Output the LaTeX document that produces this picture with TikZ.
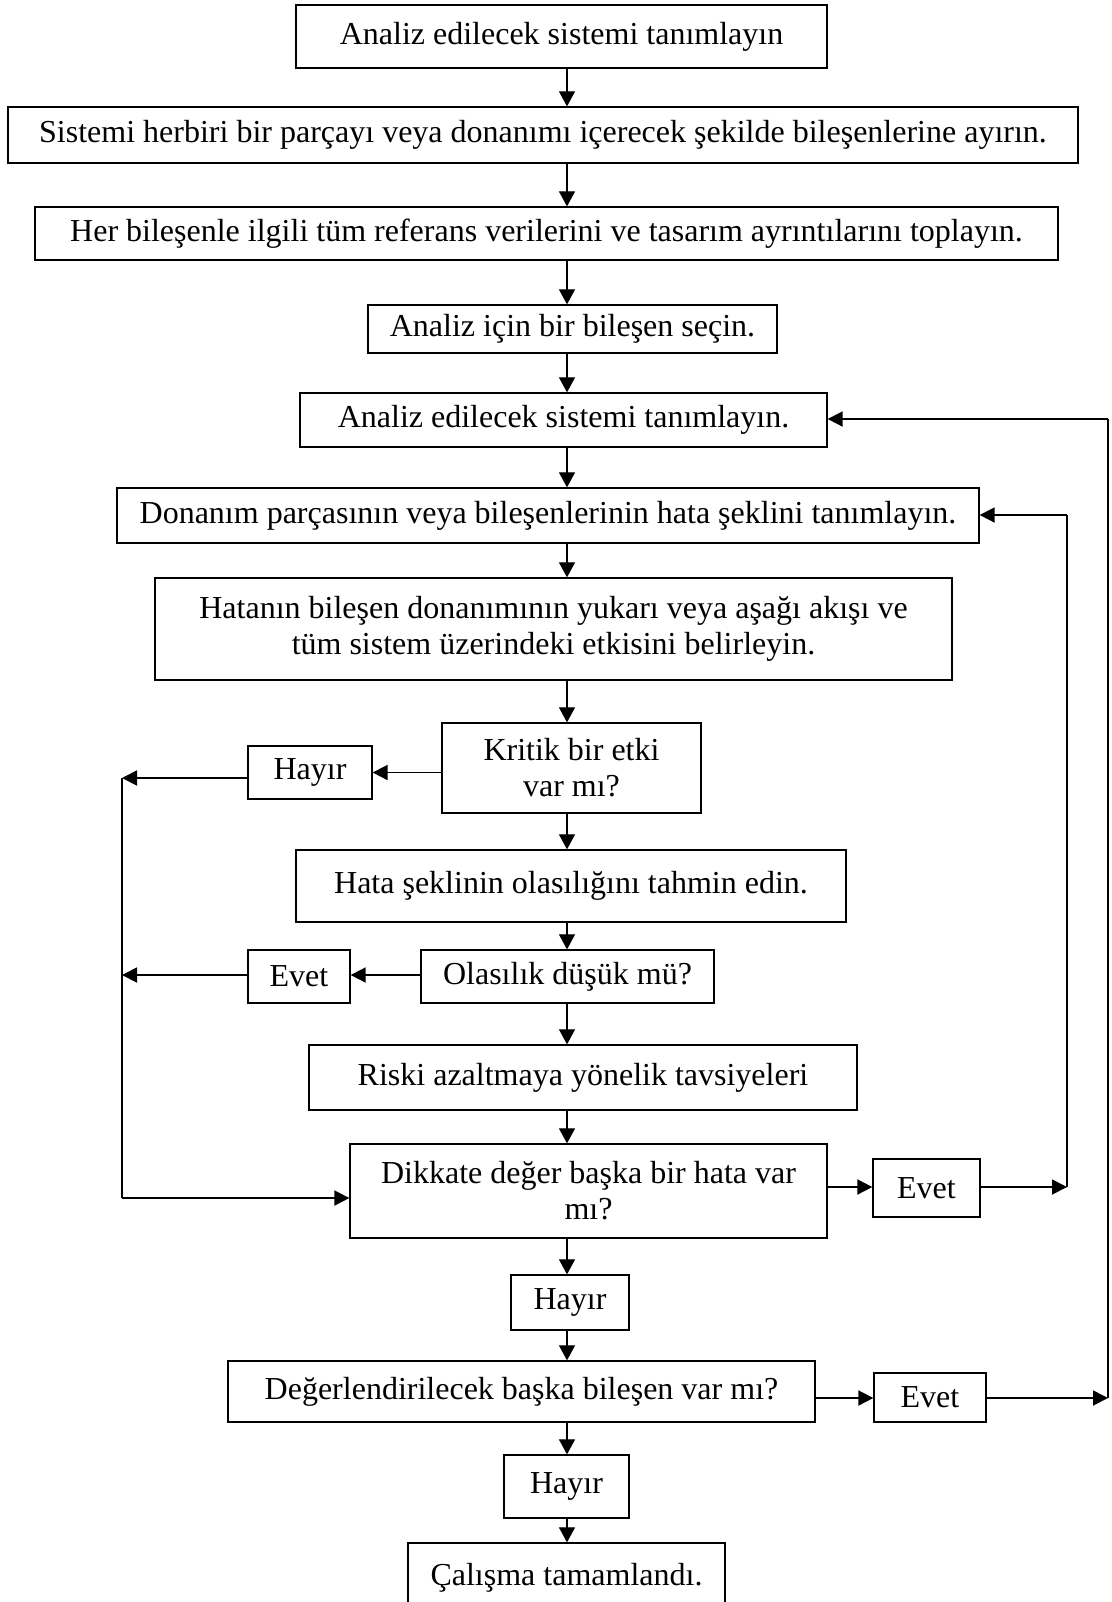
\documentclass[tikz,border=0pt]{standalone}
\usepackage{fontspec}
\setmainfont{Liberation Serif}
\usetikzlibrary{arrows.meta}
\newcommand\mkbox[6]{%
  \node[box, minimum width={(#4-#2)*0.5pt}, minimum height={(#5-#3)*0.5pt}]
    (#1) at ({(#2+#4)/2},{(#3+#5)/2}) {#6};}
\begin{document}
\begin{tikzpicture}[x=0.5pt,y=-0.5pt,
  box/.style={draw, line width=0.65pt, inner sep=0pt, align=center,
              font=\fontsize{16}{18}\selectfont},
  varrow/.style={line width=0.6pt, -{Triangle[length=7.5pt,width=8pt]}},
  harrow/.style={line width=0.9pt, -{Triangle[length=7.5pt,width=7.5pt]}},
  hline/.style={line width=0.9pt}]
\useasboundingbox (0,0) rectangle (1112,1602);
\fill[white] (0,0) rectangle (1112,1602);

\mkbox{b1}{296}{5}{827}{68}{Analiz edilecek sistemi tanımlayın}
\mkbox{b2}{8}{107}{1078}{163}{Sistemi herbiri bir parçayı veya donanımı içerecek şekilde bileşenlerine ayırın.}
\mkbox{b3}{35}{207}{1058}{260}{Her bileşenle ilgili tüm referans verilerini ve tasarım ayrıntılarını toplayın.}
\mkbox{b4}{368}{305}{777}{353}{Analiz için bir bileşen seçin.}
\mkbox{b5}{300}{393}{827}{447}{Analiz edilecek sistemi tanımlayın.}
\mkbox{b6}{117}{488}{979}{543}{Donanım parçasının veya bileşenlerinin hata şeklini tanımlayın.}
\mkbox{b7}{155}{578}{952}{680}{Hatanın bileşen donanımının yukarı veya aşağı akışı ve\\tüm sistem üzerindeki etkisini belirleyin.}
\mkbox{kritik}{442}{723}{701}{813}{Kritik bir etki\\var mı?}
\mkbox{hayir1}{248}{746}{372}{799}{Hayır}
\mkbox{hata}{296}{850}{846}{922}{Hata şeklinin olasılığını tahmin edin.}
\mkbox{olas}{421}{950}{714}{1003}{Olasılık düşük mü?}
\mkbox{evet1}{248}{950}{350}{1003}{Evet}
\mkbox{riski}{309}{1045}{857}{1110}{Riski azaltmaya yönelik tavsiyeleri}
\mkbox{dikkate}{350}{1144}{827}{1238}{Dikkate değer başka bir hata var\\mı?}
\mkbox{evet2}{873}{1159}{980}{1217}{Evet}
\mkbox{hayir2}{511}{1275}{629}{1330}{Hayır}
\mkbox{deger}{228}{1361}{815}{1422}{Değerlendirilecek başka bileşen var mı?}
\mkbox{evet3}{874}{1373}{986}{1422}{\raisebox{-4pt}{Evet}}
\mkbox{hayir3}{504}{1455}{629}{1518}{Hayır}
\mkbox{calisma}{408}{1543}{725}{1612}{Çalışma tamamlandı.}

\coordinate (X) at (567,0);
\foreach \a/\b in {b1/b2,b2/b3,b3/b4,b4/b5,b5/b6,b6/b7,b7/kritik,kritik/hata,
                   hata/olas,olas/riski,riski/dikkate,dikkate/hayir2,
                   hayir2/deger,deger/hayir3,hayir3/calisma}
  \draw[varrow] (\a.south -| X) -- (\b.north -| X);

% left side
\coordinate (L1) at (122,778);
\coordinate (L2) at (122,975);
\coordinate (L3) at (122,1198);
\draw[harrow] (hayir1.east -| kritik.west) -- (hayir1.east);
\draw[harrow] (hayir1.west |- L1) -- (L1);
\draw[harrow] (olas.west |- L2) -- (evet1.east |- L2);
\draw[harrow] (evet1.west |- L2) -- (L2);
\draw[hline] (L1) -- (L3);
\draw[harrow] (L3) -- (L3 -| dikkate.west);

% right side inner loop
\coordinate (R1) at (1067,1187);
\coordinate (R1t) at (1067,515);
\draw[harrow] (dikkate.east |- R1) -- (evet2.west |- R1);
\draw[harrow] (evet2.east |- R1) -- (R1);
\draw[hline] (R1) -- (R1t);
\draw[harrow] (R1t) -- (R1t -| b6.east);

% right side outer loop
\coordinate (R2) at (1108,1398);
\coordinate (R2t) at (1108,419);
\draw[harrow] (deger.east |- R2) -- (evet3.west |- R2);
\draw[harrow] (evet3.east |- R2) -- (R2);
\draw[hline] (R2) -- (R2t);
\draw[harrow] (R2t) -- (R2t -| b5.east);
\end{tikzpicture}
\end{document}
